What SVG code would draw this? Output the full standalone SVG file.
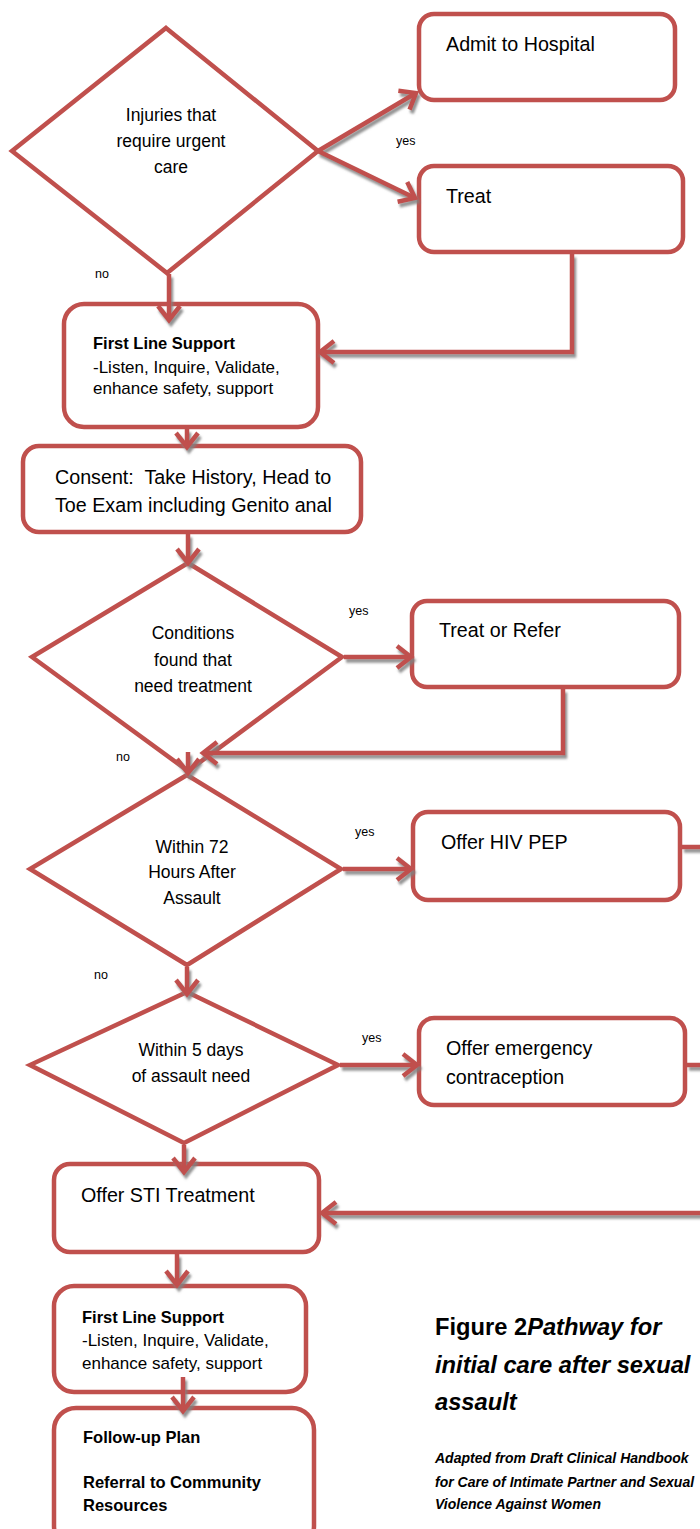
<svg xmlns="http://www.w3.org/2000/svg" width="700" height="1529" viewBox="0 0 700 1529">
<style>
.box{fill:#fff;stroke:#C0504D;stroke-width:4.5}
.dia{fill:#fff;stroke:#C0504D;stroke-width:4.5;stroke-linejoin:miter}
.con{fill:none;stroke:#C0504D;stroke-width:4.5;stroke-linejoin:miter}
text{font-family:"Liberation Sans",Arial,sans-serif;fill:#000}
.bt{font-size:19.7px}
.dt{font-size:17.5px;text-anchor:middle}
.ft{font-size:17px}
.fb{font-size:16.5px;font-weight:bold}
.lb{font-size:12.5px}
.cap{font-size:23.7px;font-weight:bold}
.sub{font-size:14px;font-weight:bold;font-style:italic}
</style>
<defs>
<marker id="ah" markerUnits="userSpaceOnUse" markerWidth="28" markerHeight="28" viewBox="0 0 28 28" refX="23" refY="14" orient="auto">
<path d="M9,3 L23,14 L9,25" fill="none" stroke="#C0504D" stroke-width="4.5"/>
</marker>
<filter id="sh" filterUnits="userSpaceOnUse" x="0" y="0" width="760" height="1600">
<feDropShadow dx="2" dy="3.5" stdDeviation="1" flood-color="#808080" flood-opacity="0.85"/>
</filter>
</defs>
<rect width="700" height="1529" fill="#fff"/>

<g id="d1">
<polygon class="dia" points="166,28 318,151 167,273 12,151"/>
<text class="dt" x="171" y="121">Injuries that</text>
<text class="dt" x="171" y="147">require urgent</text>
<text class="dt" x="171" y="173">care</text>
</g>
<g id="admit">
<rect class="box" x="419" y="14" width="256" height="86" rx="15"/>
<text class="bt" x="446" y="51">Admit to Hospital</text>
</g>
<g id="treat">
<rect class="box" x="419" y="166" width="264" height="86" rx="15"/>
<text class="bt" x="446" y="203">Treat</text>
</g>
<g id="fls1">
<rect class="box" x="64" y="304" width="254" height="123" rx="20"/>
<text class="fb" x="93" y="349">First Line Support</text>
<text class="ft" x="93" y="373">-Listen, Inquire, Validate,</text>
<text class="ft" x="93" y="394">enhance safety, support</text>
</g>
<g id="consent">
<rect class="box" x="23" y="446" width="338" height="86" rx="16"/>
<text class="bt" x="55" y="484">Consent:&#160; Take History, Head to</text>
<text class="bt" x="55" y="512">Toe Exam including Genito anal</text>
</g>
<g id="d2">
<polygon class="dia" points="188,563 342,657 188,771 32,657"/>
<text class="dt" x="193" y="639">Conditions</text>
<text class="dt" x="193" y="666">found that</text>
<text class="dt" x="193" y="692">need treatment</text>
</g>
<g id="treatrefer">
<rect class="box" x="412" y="601" width="267" height="86" rx="15"/>
<text class="bt" x="439" y="637">Treat or Refer</text>
</g>
<g id="d3">
<polygon class="dia" points="187,775 341,869 187,965 30,869"/>
<text class="dt" x="192" y="853">Within 72</text>
<text class="dt" x="192" y="878">Hours After</text>
<text class="dt" x="192" y="904">Assault</text>
</g>
<g id="hivpep">
<rect class="box" x="413" y="812" width="267" height="88" rx="15"/>
<text class="bt" x="441" y="849">Offer HIV PEP</text>
</g>
<g id="d4">
<polygon class="dia" points="187,992 338,1065 184,1143 30,1065"/>
<text class="dt" x="191" y="1056">Within 5 days</text>
<text class="dt" x="191" y="1082">of assault need</text>
</g>
<g id="ec">
<rect class="box" x="419" y="1018" width="266" height="87" rx="15"/>
<text class="bt" x="446" y="1055">Offer emergency</text>
<text class="bt" x="446" y="1084">contraception</text>
</g>
<g id="sti">
<rect class="box" x="54" y="1164" width="265" height="88" rx="16"/>
<text class="bt" x="81" y="1202">Offer STI Treatment</text>
</g>
<g id="fls2">
<rect class="box" x="54" y="1286" width="252" height="106" rx="20"/>
<text class="fb" x="82" y="1323">First Line Support</text>
<text class="ft" x="82" y="1346">-Listen, Inquire, Validate,</text>
<text class="ft" x="82" y="1369">enhance safety, support</text>
</g>
<g id="followup">
<rect class="box" x="54" y="1408" width="260" height="140" rx="22"/>
<text class="fb" x="83" y="1443">Follow-up Plan</text>
<text class="fb" x="83" y="1488">Referral to Community</text>
<text class="fb" x="83" y="1511">Resources</text>
</g>

<g id="connectors" filter="url(#sh)">
<path class="con" d="M318,151 L416,93" marker-end="url(#ah)"/>
<path class="con" d="M318,151 L415,198" marker-end="url(#ah)"/>
<path class="con" d="M169,274 V320" marker-end="url(#ah)"/>
<path class="con" d="M572,254 V352 H320" marker-end="url(#ah)"/>
<path class="con" d="M187,429 V447" marker-end="url(#ah)"/>
<path class="con" d="M188,534 V563" marker-end="url(#ah)"/>
<path class="con" d="M344,657 H411" marker-end="url(#ah)"/>
<path class="con" d="M563,689 V753 H203" marker-end="url(#ah)"/>
<path class="con" d="M188,752 V773" marker-end="url(#ah)"/>
<path class="con" d="M343,869 H411" marker-end="url(#ah)"/>
<path class="con" d="M187,967 V994" marker-end="url(#ah)"/>
<path class="con" d="M340,1065 H417" marker-end="url(#ah)"/>
<path class="con" d="M184,1145 V1172" marker-end="url(#ah)"/>
<path class="con" d="M682,847 H740 V1213"/>
<path class="con" d="M687,1065 H740"/>
<path class="con" d="M740,1213 H322" marker-end="url(#ah)"/>
<path class="con" d="M177,1254 V1285" marker-end="url(#ah)"/>
<path class="con" d="M183,1377 V1411" marker-end="url(#ah)"/>
</g>

<g id="labels">
<text class="lb" x="396" y="145">yes</text>
<text class="lb" x="95" y="278">no</text>
<text class="lb" x="349" y="615">yes</text>
<text class="lb" x="116" y="761">no</text>
<text class="lb" x="355" y="836">yes</text>
<text class="lb" x="94" y="979">no</text>
<text class="lb" x="362" y="1042">yes</text>
</g>

<g id="caption">
<text class="cap" x="435" y="1335">Figure 2<tspan font-style="italic">Pathway for</tspan></text>
<text class="cap" x="435" y="1373" font-style="italic">initial care after sexual</text>
<text class="cap" x="435" y="1410" font-style="italic">assault</text>
<text class="sub" x="435" y="1463">Adapted from Draft Clinical Handbook</text>
<text class="sub" x="435" y="1487">for Care of Intimate Partner and Sexual</text>
<text class="sub" x="435" y="1509">Violence Against Women</text>
</g>
</svg>
